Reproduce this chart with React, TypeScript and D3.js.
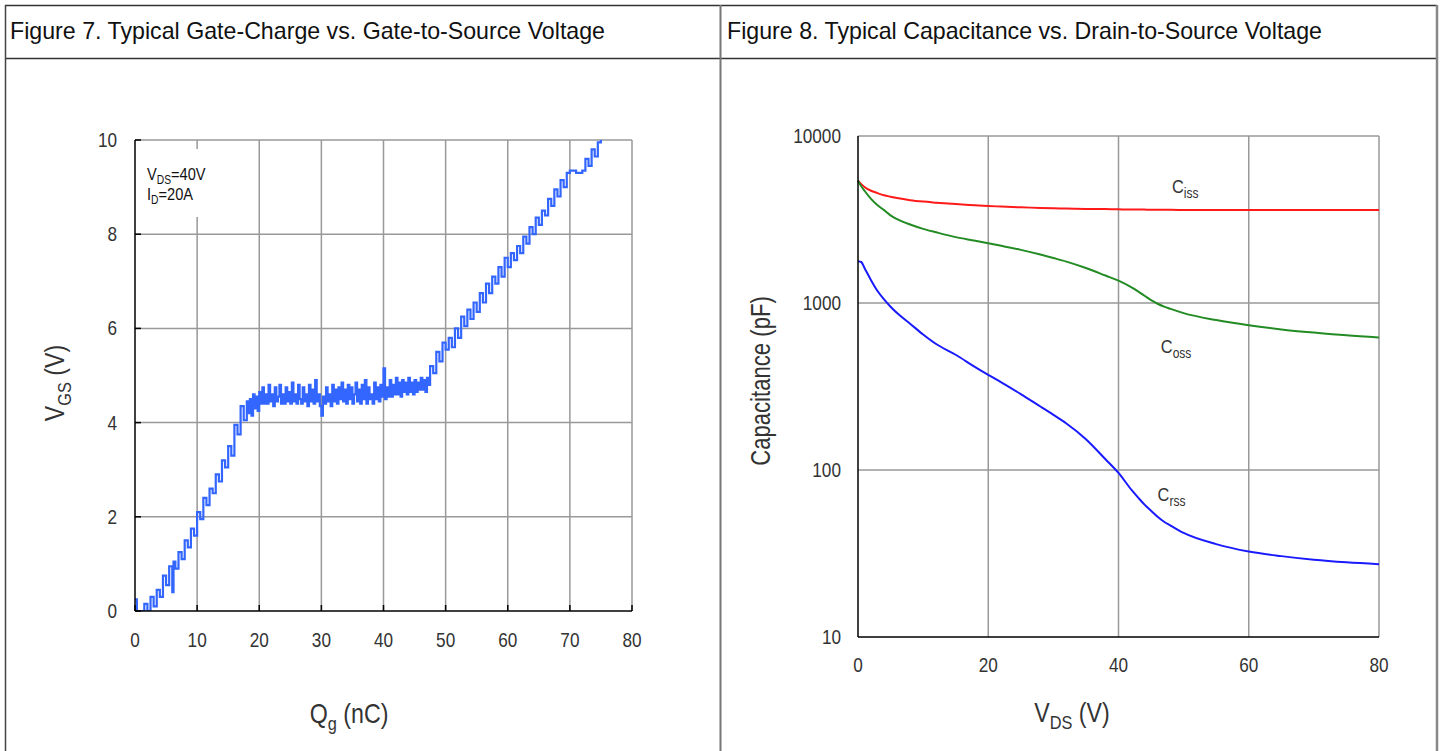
import React, { useEffect, useRef } from 'react';
import * as d3 from 'd3';

// Figure 7: gate charge (nC) vs VGS (V)
const gateCharge: [number, number][] = [
  [0, 0.25], [0.3, 0], [1, 0], [1.5, 0.15], [2, 0], [2.5, 0.3], [3, 0.1], [3.5, 0.45], [4, 0.3],
  [4.5, 0.75], [5, 0.55], [5.5, 0.95], [6, 0.4], [6.2, 1.05], [6.5, 0.9], [7, 1.25], [7.5, 1.1],
  [8, 1.5], [8.5, 1.35], [9, 1.75], [9.5, 1.6], [10, 2.1], [10.5, 1.95], [11, 2.4], [11.5, 2.25],
  [12, 2.6], [12.5, 2.5], [13, 2.9], [13.5, 2.75], [14, 3.2], [14.5, 3.05], [15, 3.5], [15.5, 3.3],
  [16, 3.95], [16.5, 3.75], [17, 4.35], [17.5, 4.05],
  [18, 4.45], [18.25, 4.2], [18.5, 4.5], [18.75, 4.15], [19, 4.6], [19.25, 4.3], [19.5, 4.55], [19.75, 4.25],
  [20, 4.65], [20.25, 4.4], [20.5, 4.75], [20.75, 4.4], [21, 4.6], [21.25, 4.4], [21.5, 4.8], [21.75, 4.45],
  [22, 4.6], [22.25, 4.35], [22.5, 4.75], [22.75, 4.45], [23, 4.55], [23.25, 4.8], [23.5, 4.4], [23.75, 4.6],
  [24, 4.4], [24.25, 4.75], [24.5, 4.45], [24.75, 4.65], [25, 4.4], [25.25, 4.85], [25.5, 4.45], [25.75, 4.6],
  [26, 4.4], [26.25, 4.8], [26.5, 4.5], [26.75, 4.4], [27, 4.75], [27.25, 4.45], [27.5, 4.6], [27.75, 4.35],
  [28, 4.8], [28.25, 4.45], [28.5, 4.7], [28.75, 4.4], [29, 4.9], [29.25, 4.45], [29.5, 4.6], [29.75, 4.35],
  [30, 4.15], [30.25, 4.55], [30.5, 4.4], [30.75, 4.75], [31, 4.45], [31.25, 4.6], [31.5, 4.35], [31.75, 4.8],
  [32, 4.45], [32.25, 4.7], [32.5, 4.4], [32.75, 4.75], [33, 4.5], [33.25, 4.85], [33.5, 4.45], [33.75, 4.7],
  [34, 4.4], [34.25, 4.8], [34.5, 4.5], [34.75, 4.75], [35, 4.4], [35.25, 4.6], [35.5, 4.85], [35.75, 4.45],
  [36, 4.7], [36.25, 4.4], [36.5, 4.8], [36.75, 4.5], [37, 4.9], [37.25, 4.4], [37.5, 4.75], [37.75, 4.5],
  [38, 4.6], [38.25, 4.4], [38.5, 4.85], [38.75, 4.5], [39, 4.75], [39.25, 4.45], [39.5, 4.8], [39.75, 4.55],
  [40, 5.15], [40.25, 4.5], [40.5, 4.75], [40.75, 4.55], [41, 4.9], [41.25, 4.55], [41.5, 4.8], [41.75, 4.6],
  [42, 4.95], [42.25, 4.6], [42.5, 4.85], [42.75, 4.55], [43, 4.9], [43.25, 4.65], [43.5, 4.85], [43.75, 4.6],
  [44, 4.95], [44.25, 4.65], [44.5, 4.85], [44.75, 4.6], [45, 4.9], [45.25, 4.65], [45.5, 4.85], [45.75, 4.7],
  [46, 4.95], [46.25, 4.7], [46.5, 4.9], [46.75, 4.65], [47, 4.95], [47.25, 4.8], [47.5, 5.2],
  [48, 5.05], [48.5, 5.5], [49, 5.3], [49.5, 5.7], [50, 5.55], [50.5, 5.8], [51, 5.6], [51.5, 6.0],
  [52, 5.8], [52.5, 6.25], [53, 6.05], [53.5, 6.4], [54, 6.2], [54.5, 6.55], [55, 6.35], [55.5, 6.75],
  [56, 6.55], [56.5, 6.95], [57, 6.75], [57.5, 7.1], [58, 6.95], [58.5, 7.3], [59, 7.1], [59.5, 7.5],
  [60, 7.3], [60.5, 7.6], [61, 7.45], [61.5, 7.75], [62, 7.6], [62.5, 7.95], [63, 7.8], [63.5, 8.15],
  [64, 8.0], [64.5, 8.35], [65, 8.2], [65.5, 8.5], [66, 8.4], [66.5, 8.75], [67, 8.6], [67.5, 8.95],
  [68, 8.8], [68.5, 9.15], [69, 9.0], [69.5, 9.3], [70, 9.35], [71, 9.3], [72, 9.35], [72.5, 9.6],
  [73, 9.45], [73.5, 9.8], [74, 9.65], [74.5, 9.95], [75, 10.0],
];
const qTicks = [0, 10, 20, 30, 40, 50, 60, 70, 80];
const vgsTicks = [0, 2, 4, 6, 8, 10];

// Figure 8: capacitance (pF) vs VDS (V)
const vds = [0, 0.5, 1, 2, 3, 4, 5, 6, 8, 10, 12, 15, 18, 20, 22, 25, 28, 30, 32, 35, 38, 40, 42, 43, 44, 45, 46, 47, 48, 50, 55, 60, 65, 70, 75, 80];
const ciss = [5400, 5150, 4950, 4700, 4550, 4420, 4330, 4250, 4130, 4050, 3990, 3910, 3850, 3810, 3780, 3740, 3710, 3690, 3680, 3660, 3650, 3640, 3630, 3630, 3625, 3620, 3620, 3620, 3615, 3610, 3610, 3610, 3605, 3605, 3600, 3600];
const coss = [5400, 5000, 4700, 4200, 3850, 3600, 3350, 3180, 2950, 2780, 2650, 2480, 2360, 2280, 2200, 2080, 1950, 1860, 1770, 1620, 1460, 1360, 1240, 1175, 1105, 1040, 990, 952, 922, 870, 790, 735, 695, 665, 640, 622];
const crss = [1780, 1760, 1620, 1370, 1180, 1050, 950, 870, 752, 648, 568, 490, 413, 371, 335, 285, 240, 214, 190, 153, 116, 96, 76, 68.5, 62, 57, 52.5, 49, 46.5, 42, 36, 32.5, 30.5, 29, 28, 27.3];
const vdsTicks = [0, 20, 40, 60, 80];
const capTicks = [10, 100, 1000, 10000];

const titles = [
  'Figure 7. Typical Gate-Charge vs. Gate-to-Source Voltage',
  'Figure 8. Typical Capacitance vs. Drain-to-Source Voltage',
];

const SANS = '"Liberation Sans", Arial, sans-serif';
const GRID = '#999';
const INK = '#333';
const SQUEEZE = 'scale(0.86,1)'; // chart text in the original is a narrow face

const App = () => {
  const ref = useRef<SVGSVGElement>(null);

  useEffect(() => {
    document.body.style.margin = '0';
    document.body.style.overflow = 'hidden';
    const svg = d3.select(ref.current);
    svg.selectAll('*').remove();

    // table frame
    const frame = svg.append('g').attr('fill', 'none');
    frame.append('line').attr('x1', 5).attr('x2', 1437).attr('y1', 5.5).attr('y2', 5.5).attr('stroke', '#333').attr('stroke-width', 1.5);
    frame.append('line').attr('x1', 5).attr('x2', 1437).attr('y1', 58.5).attr('y2', 58.5).attr('stroke', '#333').attr('stroke-width', 1.5);
    frame.append('line').attr('x1', 5.5).attr('x2', 5.5).attr('y1', 5).attr('y2', 751).attr('stroke', '#444').attr('stroke-width', 1.5);
    frame.append('line').attr('x1', 720.5).attr('x2', 720.5).attr('y1', 5).attr('y2', 751).attr('stroke', '#777').attr('stroke-width', 2);
    frame.append('line').attr('x1', 1437).attr('x2', 1437).attr('y1', 5).attr('y2', 751).attr('stroke', '#888').attr('stroke-width', 2.5);

    svg.selectAll('text.title')
      .data(titles)
      .join('text')
      .attr('class', 'title')
      .attr('x', (d, i) => (i === 0 ? 10 : 727))
      .attr('y', 39)
      .attr('font-family', SANS)
      .attr('font-size', 23.2)
      .attr('fill', '#111')
      .text(d => d);

    // ---------- Figure 7 ----------
    const x1 = d3.scaleLinear().domain([0, 80]).range([135, 632]);
    const y1 = d3.scaleLinear().domain([0, 10]).range([611, 140]);
    const g1 = svg.append('g');

    g1.selectAll('line.vg').data(qTicks.slice(1)).join('line')
      .attr('x1', d => x1(d)).attr('x2', d => x1(d)).attr('y1', y1(0)).attr('y2', y1(10))
      .attr('stroke', GRID).attr('stroke-width', 1.5);
    g1.selectAll('line.hg').data(vgsTicks.slice(1)).join('line')
      .attr('x1', x1(0)).attr('x2', x1(80)).attr('y1', d => y1(d)).attr('y2', d => y1(d))
      .attr('stroke', GRID).attr('stroke-width', 1.5);

    // box behind the test conditions
    g1.append('rect').attr('x', 140).attr('y', 149).attr('width', 80).attr('height', 68).attr('fill', '#fff');

    g1.append('clipPath').attr('id', 'clip1').append('rect')
      .attr('x', x1(0)).attr('y', y1(10)).attr('width', x1(80) - x1(0)).attr('height', y1(0) - y1(10));
    const qgLine = d3.line<[number, number]>().x(d => x1(d[0])).y(d => y1(d[1])).curve(d3.curveStepAfter);
    g1.append('path')
      .datum(gateCharge)
      .attr('clip-path', 'url(#clip1)')
      .attr('fill', 'none')
      .attr('stroke', '#3366ff')
      .attr('stroke-width', 2.2)
      .attr('d', qgLine);

    g1.append('line').attr('x1', x1(0)).attr('x2', x1(0)).attr('y1', y1(0)).attr('y2', y1(10)).attr('stroke', '#000').attr('stroke-width', 1.5);
    g1.append('line').attr('x1', x1(0)).attr('x2', x1(80)).attr('y1', y1(0)).attr('y2', y1(0)).attr('stroke', '#000').attr('stroke-width', 1.5);
    g1.selectAll('line.ly').data(vgsTicks).join('line')
      .attr('x1', x1(0)).attr('x2', x1(0) + 6).attr('y1', d => y1(d)).attr('y2', d => y1(d))
      .attr('stroke', '#000').attr('stroke-width', 1.5);
    g1.selectAll('line.lx').data(qTicks).join('line')
      .attr('x1', d => x1(d)).attr('x2', d => x1(d)).attr('y1', y1(0)).attr('y2', y1(0) - 6)
      .attr('stroke', '#000').attr('stroke-width', 1.5);

    g1.selectAll('text.ty').data(vgsTicks).join('text')
      .attr('transform', d => `translate(${x1(0) - 18},${y1(d) + 7}) ${SQUEEZE}`)
      .attr('text-anchor', 'end').attr('font-family', SANS).attr('font-size', 20).attr('fill', INK)
      .text(d => d);
    g1.selectAll('text.tx').data(qTicks).join('text')
      .attr('transform', d => `translate(${x1(d)},${y1(0) + 36}) ${SQUEEZE}`)
      .attr('text-anchor', 'middle').attr('font-family', SANS).attr('font-size', 20).attr('fill', INK)
      .text(d => d);

    const note = g1.append('text').attr('transform', `translate(147,180) ${SQUEEZE}`)
      .attr('font-family', SANS).attr('font-size', 17).attr('fill', '#111');
    note.append('tspan').text('V');
    note.append('tspan').attr('font-size', 12).attr('dy', 4).text('DS');
    note.append('tspan').attr('dy', -4).text('=40V');
    const note2 = g1.append('text').attr('transform', `translate(147,200) ${SQUEEZE}`)
      .attr('font-family', SANS).attr('font-size', 17).attr('fill', '#111');
    note2.append('tspan').text('I');
    note2.append('tspan').attr('font-size', 12).attr('dy', 4).text('D');
    note2.append('tspan').attr('dy', -4).text('=20A');

    const yt1 = g1.append('text')
      .attr('transform', `translate(64,383) rotate(-90) ${SQUEEZE}`)
      .attr('text-anchor', 'middle').attr('font-family', SANS).attr('font-size', 27).attr('fill', INK);
    yt1.append('tspan').text('V');
    yt1.append('tspan').attr('font-size', 19).attr('dy', 7).text('GS');
    yt1.append('tspan').attr('dy', -7).text(' (V)');

    const xt1 = g1.append('text')
      .attr('transform', `translate(349,723) ${SQUEEZE}`)
      .attr('text-anchor', 'middle').attr('font-family', SANS).attr('font-size', 27).attr('fill', INK);
    xt1.append('tspan').text('Q');
    xt1.append('tspan').attr('font-size', 19).attr('dy', 7).text('g');
    xt1.append('tspan').attr('dy', -7).text(' (nC)');

    // ---------- Figure 8 ----------
    const x2 = d3.scaleLinear().domain([0, 80]).range([858, 1379]);
    const y2 = d3.scaleLog().domain([10, 10000]).range([637, 136]);
    const g2 = svg.append('g');

    g2.selectAll('line.vg').data(vdsTicks.slice(1)).join('line')
      .attr('x1', d => x2(d)).attr('x2', d => x2(d)).attr('y1', y2(10)).attr('y2', y2(10000))
      .attr('stroke', GRID).attr('stroke-width', 1.5);
    g2.selectAll('line.hg').data(capTicks.slice(1)).join('line')
      .attr('x1', x2(0)).attr('x2', x2(80)).attr('y1', d => y2(d)).attr('y2', d => y2(d))
      .attr('stroke', GRID).attr('stroke-width', 1.5);

    const series = [
      { name: 'iss', values: ciss, color: '#ff1a1a', at: [48.2, 193] },
      { name: 'oss', values: coss, color: '#238b23', at: [46.5, 353] },
      { name: 'rss', values: crss, color: '#1a1aff', at: [46, 501] },
    ];
    const capLine = d3.line<number>().x((d, i) => x2(vds[i])).y(d => y2(d)).curve(d3.curveMonotoneX);
    series.forEach(s => {
      g2.append('path')
        .datum(s.values)
        .attr('fill', 'none')
        .attr('stroke', s.color)
        .attr('stroke-width', 2)
        .attr('d', capLine);
      const t = g2.append('text').attr('font-family', SANS).attr('font-size', 19).attr('fill', INK)
        .attr('transform', `translate(${x2(s.at[0])},${s.at[1]}) ${SQUEEZE}`);
      t.append('tspan').text('C');
      t.append('tspan').attr('font-size', 14).attr('dy', 5).text(s.name);
    });

    g2.append('line').attr('x1', x2(0)).attr('x2', x2(0)).attr('y1', y2(10)).attr('y2', y2(10000)).attr('stroke', '#000').attr('stroke-width', 1.5);
    g2.append('line').attr('x1', x2(0)).attr('x2', x2(80)).attr('y1', y2(10)).attr('y2', y2(10)).attr('stroke', '#000').attr('stroke-width', 1.5);

    g2.selectAll('text.ty').data(capTicks).join('text')
      .attr('transform', d => `translate(${x2(0) - 17},${y2(d) + 7}) ${SQUEEZE}`)
      .attr('text-anchor', 'end').attr('font-family', SANS).attr('font-size', 20).attr('fill', INK)
      .text(d => d);
    g2.selectAll('text.tx').data(vdsTicks).join('text')
      .attr('transform', d => `translate(${x2(d)},${y2(10) + 35}) ${SQUEEZE}`)
      .attr('text-anchor', 'middle').attr('font-family', SANS).attr('font-size', 20).attr('fill', INK)
      .text(d => d);

    g2.append('text')
      .attr('transform', 'translate(770,381) rotate(-90) scale(0.82,1)')
      .attr('text-anchor', 'middle').attr('font-family', SANS).attr('font-size', 27).attr('fill', INK)
      .text('Capacitance (pF)');

    const xt2 = g2.append('text')
      .attr('transform', `translate(1072,722) ${SQUEEZE}`)
      .attr('text-anchor', 'middle').attr('font-family', SANS).attr('font-size', 27).attr('fill', INK);
    xt2.append('tspan').text('V');
    xt2.append('tspan').attr('font-size', 19).attr('dy', 7).text('DS');
    xt2.append('tspan').attr('dy', -7).text(' (V)');
  }, []);

  return <svg ref={ref} width={1442} height={751} style={{ display: 'block' }} />;
};

export default App;
